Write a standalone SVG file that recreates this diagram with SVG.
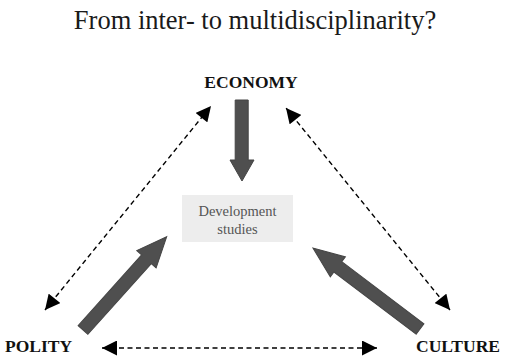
<svg xmlns="http://www.w3.org/2000/svg" width="505" height="359" viewBox="0 0 505 359">
<style>
.title{font-family:"Liberation Serif","Times New Roman",serif;font-size:26.5px;fill:#1a1a1a}
.lbl{font-family:"Liberation Serif","Times New Roman",serif;font-size:17.5px;font-weight:bold;fill:#111}
.box{fill:#ededed}
.boxtxt{font-family:"Liberation Serif","Times New Roman",serif;font-size:14.5px;fill:#555}
.dash{stroke:#000;stroke-width:1.4;stroke-dasharray:5 3.5;fill:none}
.thick{fill:#4f4f4f;stroke:#454545;stroke-width:1}
</style>
<defs>
<marker id="ah" viewBox="0 0 10 10" refX="10" refY="5" markerUnits="userSpaceOnUse" markerWidth="16" markerHeight="15" orient="auto-start-reverse">
<path d="M0,0 L10,5 L0,10 z" fill="#000"/>
</marker>
</defs>
<rect width="505" height="359" fill="#fff"/>
<text class="title" x="255" y="29" text-anchor="middle">From inter- to multidisciplinarity?</text>
<g id="economy"><text class="lbl" x="251" y="88" text-anchor="middle">ECONOMY</text></g>
<g id="polity"><text class="lbl" x="5" y="352">POLITY</text></g>
<g id="culture"><text class="lbl" x="500" y="352" text-anchor="end">CULTURE</text></g>
<g id="development">
<rect class="box" x="182" y="195" width="111" height="47"/>
<text class="boxtxt" x="237.5" y="215.5" text-anchor="middle">Development</text>
<text class="boxtxt" x="237.5" y="234" text-anchor="middle">studies</text>
</g>
<g id="connectors">
<line class="dash" x1="45" y1="310" x2="211" y2="106" marker-start="url(#ah)" marker-end="url(#ah)"/>
<line class="dash" x1="450" y1="310" x2="286" y2="108" marker-start="url(#ah)" marker-end="url(#ah)"/>
<line class="dash" x1="102" y1="348" x2="377" y2="348" marker-start="url(#ah)" marker-end="url(#ah)"/>
<polygon class="thick" points="235.2,100 248.2,100 248.2,160 254,160 242,181 230,160 235.2,160"/>
<polygon class="thick" transform="translate(83,330) rotate(-48.1)" points="0,-6.5 95,-6.5 95,-13 125.3,0 95,13 95,6.5 0,6.5"/>
<polygon class="thick" transform="translate(420,329) rotate(-142.9)" points="0,-6.5 103,-6.5 103,-12.5 134.2,0 103,12.5 103,6.5 0,6.5"/>
</g>
</svg>
